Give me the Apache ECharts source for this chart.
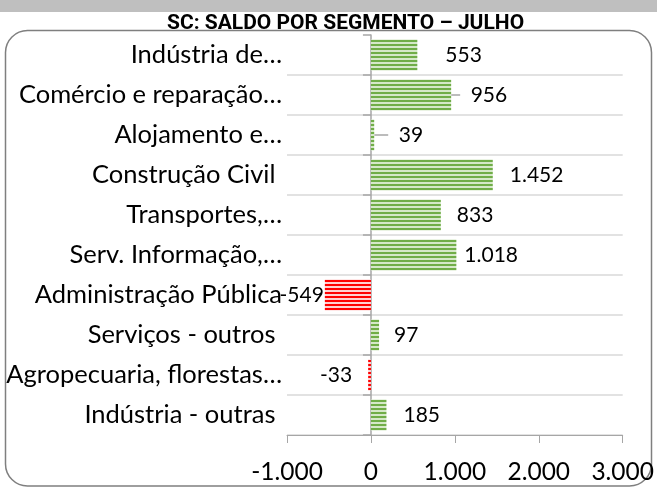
<!DOCTYPE html>
<html>
<head>
<meta charset="utf-8">
<script src="https://cdn.jsdelivr.net/npm/echarts@6/dist/echarts.min.js"></script>
<style>
	html, body { margin: 0; padding: 0; background: #fff; }
	#chart { width: 657px; height: 489px; }
</style>
</head>
<body>
<div id="chart"></div>
<script>
// categorias de cima para baixo (com os espaços finais do original)
const segmentos = [
	'Indústria de…',
	'Comércio e reparação…',
	'Alojamento e…',
	'Construção Civil ',
	'Transportes,…',
	'Serv. Informação,…',
	'Administração Pública',
	'Serviços - outros ',
	'Agropecuaria, florestas…',
	'Indústria - outras '
]
const saldo = [553, 956, 39, 1452, 833, 1018, -549, 97, -33, 185]
const eixoX = { min: -1000, max: 3000, step: 1000 }

// afastamento dos rótulos (px) e quais têm linha de chamada, como no Excel
const distRotulo = [28, 19, 24, 17, 16, 8, 1, 15, 16, 17]
const comLinha = [1, 2]

function fmt(v) {
	const s = String(Math.abs(v)).replace(/\B(?=(\d{3})+(?!\d))/g, '.')
	return (v < 0 ? '-' : '') + s
}

// preenchimento listrado (padrão do Excel)
function listras(cor, claro) {
	const cv = document.createElement('canvas')
	cv.width = 4
	cv.height = 4
	const ctx = cv.getContext('2d')
	ctx.fillStyle = claro
	ctx.fillRect(0, 0, 4, 4)
	ctx.fillStyle = cor
	ctx.fillRect(0, 0, 4, 2)
	return { image: cv, repeat: 'repeat' }
}
const verde = listras('#70ad47', '#d5e8c8')
const vermelho = listras('#ff0000', '#ffd0d0')

const fonte = 'Lato, "Open Sans", sans-serif'

let chart = echarts.init(document.getElementById('chart'), null, { renderer: 'canvas' })
let option = {
	animation: false,
	title: {
		text: 'SC: SALDO POR SEGMENTO – JULHO',
		left: 162, top: 8,
		textStyle: { fontFamily: 'Roboto, "Liberation Sans", sans-serif', fontWeight: 'bold', fontSize: 21, color: '#000' }
	},
	graphic: [
		{ type: 'rect', shape: { x: 0, y: 0, width: 657, height: 12 }, style: { fill: '#bfbfbf' }, silent: true },
		{ type: 'rect', shape: { x: 5.5, y: 30.5, width: 646, height: 455.5, r: 22 }, style: { fill: 'none', stroke: '#7f7f7f', lineWidth: 1.5 }, silent: true }
	],
	grid: { left: 287, right: 34, top: 35, bottom: 54, containLabel: false },
	xAxis: {
		type: 'value', min: eixoX.min, max: eixoX.max, interval: eixoX.step,
		axisLine: { show: true, onZero: false, lineStyle: { color: '#a6a6a6', width: 1 } },
		axisTick: { show: true, length: 8, lineStyle: { color: '#a6a6a6' } },
		splitLine: { show: false },
		axisLabel: { fontFamily: fonte, fontSize: 24.5, color: '#000', margin: 25, formatter: fmt }
	},
	yAxis: [
		{
			type: 'category', data: segmentos, inverse: true,
			axisLine: { show: false, onZero: false },
			axisTick: { show: false },
			axisLabel: { fontFamily: fonte, fontSize: 25.5, color: '#000', margin: 5 },
			splitLine: { show: true, showMinLine: false, lineStyle: { color: '#d9d9d9', width: 1.5 } }
		},
		{
			type: 'category', data: segmentos, inverse: true, position: 'left',
			axisLine: { show: true, onZero: true, lineStyle: { color: '#a6a6a6', width: 1.5 } },
			axisTick: { show: true, length: 8, lineStyle: { color: '#a6a6a6', width: 1.5 } },
			axisLabel: { show: false },
			splitLine: { show: false }
		}
	],
	series: [{
		type: 'bar', yAxisIndex: 0, barWidth: 31,
		data: saldo.map((v, i) => ({
			value: v,
			itemStyle: { color: v < 0 ? vermelho : verde },
			label: {
				position: v < 0 ? 'left' : 'right',
				distance: comLinha.includes(i) ? 0 : distRotulo[i]
			},
			labelLine: { show: comLinha.includes(i) }
		})),
		label: {
			show: true,
			fontFamily: fonte, fontSize: 21, color: '#000',
			// espaço à frente para a linha de chamada não encostar no número
			formatter: p => (comLinha.includes(p.dataIndex) ? '\u2002' : '') + fmt(p.value)
		},
		labelLayout: p => comLinha.includes(p.dataIndex) ? { dx: distRotulo[p.dataIndex] - 10 } : {},
		labelLine: { lineStyle: { color: '#a6a6a6', width: 1.5 } }
	}]
}
chart.setOption(option)
</script>
</body>
</html>
